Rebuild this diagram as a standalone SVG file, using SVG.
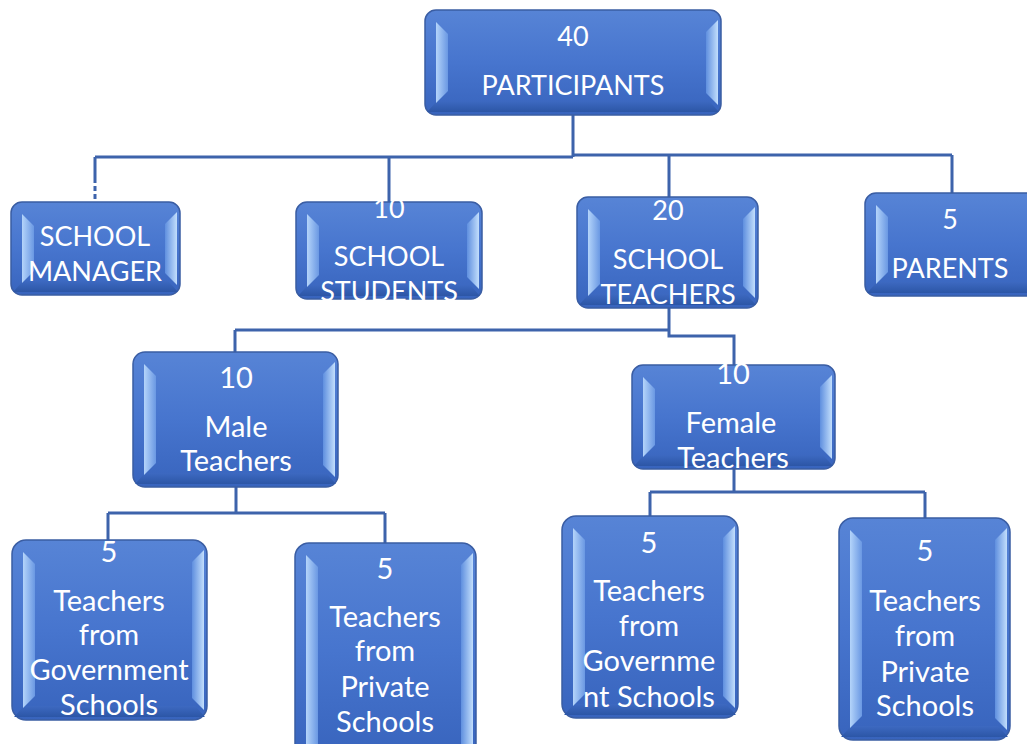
<svg xmlns="http://www.w3.org/2000/svg" width="1027" height="744" viewBox="0 0 1027 744">
<defs>
<linearGradient id="gBox" x1="0" y1="0" x2="0" y2="1">
<stop offset="0" stop-color="#5784d6"/>
<stop offset="0.5" stop-color="#4775ce"/>
<stop offset="1" stop-color="#3864bd"/>
</linearGradient>
<linearGradient id="gL" x1="0" y1="0" x2="1" y2="0">
<stop offset="0" stop-color="#b4d4fa"/>
<stop offset="1" stop-color="#6a98e3"/>
</linearGradient>
<linearGradient id="gR" x1="0" y1="0" x2="1" y2="0">
<stop offset="0" stop-color="#5f8fdf"/>
<stop offset="1" stop-color="#c2defc"/>
</linearGradient>
<linearGradient id="gB" x1="0" y1="0" x2="0" y2="1">
<stop offset="0" stop-color="#3d69c1"/>
<stop offset="1" stop-color="#2c56a6"/>
</linearGradient>
</defs>
<style>
.box{fill:url(#gBox);stroke:#3a5da3;stroke-width:1.5}
.bl{fill:url(#gL)}
.br{fill:url(#gR)}
.bb{fill:url(#gB)}
.t{fill:#ffffff;font-family:Lato,"Liberation Sans",sans-serif;font-size:27px;text-anchor:middle}
.t2{fill:#ffffff;font-family:Lato,"Liberation Sans",sans-serif;font-size:29px;text-anchor:middle}
.c{fill:none;stroke:#3d63ab;stroke-width:3}
.cd{fill:none;stroke:#3d63ab;stroke-width:3;stroke-dasharray:5 3}
</style>
<g id="connectors">
<path class="c" d="M573 115V157M95 157H573M573 155H952M95 157V178M389 157V202M669 155V197M952 155V193"/>
<path class="cd" d="M95 178V202"/>
<path class="c" d="M669 308V336H734V365M235 330H669M235 330V352"/>
<path class="c" d="M236 487V513M108 513H385M108 513V540M385 513V543"/>
<path class="c" d="M734 469V492M650 492H925M650 492V516M925 492V518"/>
</g>
<g id="n-participants">
<rect class="box" x="425" y="10" width="296" height="105" rx="11"/>
<polygon class="bb" points="437,101 709,101 719,112 427,112"/>
<polygon class="bl" points="436,22 448,34 448,91 436,103"/>
<polygon class="br" points="718,20 706,32 706,93 718,105"/>
<text class="t" x="573" y="46">40</text>
<text class="t" x="573" y="95">PARTICIPANTS</text>
</g>
<g id="n-manager">
<rect class="box" x="11" y="202" width="169" height="93" rx="11"/>
<polygon class="bb" points="23,281 168,281 178,292 13,292"/>
<polygon class="bl" points="22,214 34,226 34,271 22,283"/>
<polygon class="br" points="177,212 165,224 165,273 177,285"/>
<text class="t" x="95" y="246">SCHOOL</text>
<text class="t" x="95" y="281">MANAGER</text>
</g>
<g id="n-students">
<rect class="box" x="296" y="202" width="186" height="97" rx="11"/>
<polygon class="bb" points="308,285 470,285 480,296 298,296"/>
<polygon class="bl" points="307,214 319,226 319,275 307,287"/>
<polygon class="br" points="479,212 467,224 467,277 479,289"/>
<text class="t" x="389" y="218">10</text>
<text class="t" x="389" y="266">SCHOOL</text>
<text class="t" x="389" y="301">STUDENTS</text>
</g>
<g id="n-teachers">
<rect class="box" x="577" y="197" width="181" height="111" rx="11"/>
<polygon class="bb" points="589,294 746,294 756,305 579,305"/>
<polygon class="bl" points="588,209 600,221 600,284 588,296"/>
<polygon class="br" points="755,207 743,219 743,286 755,298"/>
<text class="t" x="668" y="220">20</text>
<text class="t" x="668" y="269">SCHOOL</text>
<text class="t" x="668" y="304">TEACHERS</text>
</g>
<g id="n-parents">
<rect class="box" x="865" y="193" width="175" height="103" rx="11"/>
<polygon class="bb" points="877,282 1028,282 1038,293 867,293"/>
<polygon class="bl" points="876,205 888,217 888,272 876,284"/>
<text class="t" x="950" y="229">5</text>
<text class="t" x="950" y="278">PARENTS</text>
</g>
<g id="n-male">
<rect class="box" x="133" y="352" width="205" height="135" rx="12"/>
<polygon class="bb" points="145,473 326,473 336,484 135,484"/>
<polygon class="bl" points="144,364 156,376 156,463 144,475"/>
<polygon class="br" points="335,362 323,374 323,465 335,477"/>
<text class="t2" x="236" y="388">10</text>
<text class="t2" x="236" y="437">Male</text>
<text class="t2" x="236" y="471">Teachers</text>
</g>
<g id="n-female">
<rect class="box" x="632" y="365" width="203" height="104" rx="11"/>
<polygon class="bb" points="644,455 823,455 833,466 634,466"/>
<polygon class="bl" points="643,377 655,389 655,445 643,457"/>
<polygon class="br" points="832,375 820,387 820,447 832,459"/>
<text class="t2" x="733" y="384">10</text>
<text class="t2" x="731" y="433">Female</text>
<text class="t2" x="733" y="468">Teachers</text>
</g>
<g id="n-gov-male">
<rect class="box" x="12" y="540" width="195" height="180" rx="14"/>
<polygon class="bb" points="24,706 195,706 205,717 14,717"/>
<polygon class="bl" points="23,552 35,564 35,696 23,708"/>
<polygon class="br" points="204,550 192,562 192,698 204,710"/>
<text class="t2" x="109" y="562">5</text>
<text class="t2" x="109" y="611">Teachers</text>
<text class="t2" x="109" y="645">from</text>
<text class="t2" x="109" y="680">Government</text>
<text class="t2" x="109" y="715">Schools</text>
</g>
<g id="n-priv-male">
<rect class="box" x="295" y="543" width="181" height="215" rx="14"/>
<polygon class="bl" points="306,555 318,567 318,744 306,744"/>
<polygon class="br" points="473,553 461,565 461,744 473,744"/>
<text class="t2" x="385" y="579">5</text>
<text class="t2" x="385" y="627">Teachers</text>
<text class="t2" x="385" y="661">from</text>
<text class="t2" x="385" y="697">Private</text>
<text class="t2" x="385" y="732">Schools</text>
</g>
<g id="n-gov-female">
<rect class="box" x="562" y="516" width="176" height="202" rx="14"/>
<polygon class="bb" points="574,704 726,704 736,715 564,715"/>
<polygon class="bl" points="573,528 585,540 585,694 573,706"/>
<polygon class="br" points="735,526 723,538 723,696 735,708"/>
<text class="t2" x="649" y="553">5</text>
<text class="t2" x="649" y="601">Teachers</text>
<text class="t2" x="649" y="636">from</text>
<text class="t2" x="649" y="671">Governme</text>
<text class="t2" x="649" y="707">nt Schools</text>
</g>
<g id="n-priv-female">
<rect class="box" x="839" y="518" width="171" height="222" rx="14"/>
<polygon class="bb" points="851,726 998,726 1008,737 841,737"/>
<polygon class="bl" points="850,530 862,542 862,716 850,728"/>
<polygon class="br" points="1007,528 995,540 995,718 1007,730"/>
<text class="t2" x="925" y="561">5</text>
<text class="t2" x="925" y="611">Teachers</text>
<text class="t2" x="925" y="646">from</text>
<text class="t2" x="925" y="682">Private</text>
<text class="t2" x="925" y="716">Schools</text>
</g>
</svg>
